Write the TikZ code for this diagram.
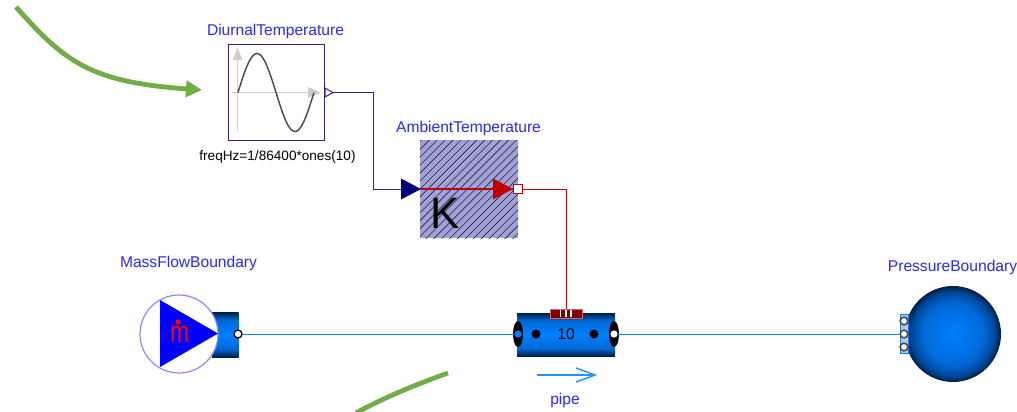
\documentclass[tikz,border=0pt]{standalone}
\usepackage{graphicx}
\usepackage{fontspec}
\setmainfont{Liberation Sans}
\usetikzlibrary{arrows.meta,positioning,calc,patterns.meta}
\definecolor{namecol}{RGB}{40,40,255}
\definecolor{signalcol}{RGB}{0,0,127}
\definecolor{wirecol}{RGB}{40,40,140}
\definecolor{framecol}{RGB}{40,40,140}
\definecolor{heatcol}{RGB}{191,0,0}
\definecolor{fluidcol}{RGB}{0,127,255}
\definecolor{pipemid}{RGB}{0,105,215}
\definecolor{pipeedge}{RGB}{0,70,150}
\definecolor{pipedark}{RGB}{0,30,65}
\definecolor{axiscol}{RGB}{205,205,205}
\definecolor{hatchbg}{RGB}{160,160,218}
\definecolor{greencol}{RGB}{112,173,71}
\definecolor{flangecol}{RGB}{130,0,0}
\pgfdeclareverticalshading{tubeshade}{100bp}{color(0bp)=(pipedark); color(25bp)=(pipedark); color(34bp)=(pipemid); color(50bp)=(fluidcol); color(66bp)=(pipemid); color(75bp)=(pipedark); color(100bp)=(pipedark)}
\pgfdeclareradialshading{ballshade}{\pgfpoint{0bp}{0bp}}{color(0bp)=(fluidcol); color(16bp)=(pipemid); color(22bp)=(pipeedge); color(25bp)=(pipedark); color(50bp)=(pipedark)}
\tikzset{
  namelabel/.style={text=namecol,font=\fontsize{11.7}{13}\selectfont,inner sep=0pt},
  paramlabel/.style={text=black,font=\fontsize{10.2}{12}\selectfont,inner sep=0pt},
  signalline/.style={wirecol,line width=0.75pt},
  heatline/.style={heatcol,line width=0.75pt},
  fluidline/.style={fluidcol,line width=0.75pt},
  greenarrow/.style={greencol,line width=3.6pt},
  portdot/.style={circle,draw=black,fill=white,line width=1pt,minimum size=6pt,inner sep=0pt}
}
\begin{document}
\begin{tikzpicture}[x=0.75pt,y=-0.75pt,>=Latex]
\useasboundingbox (0,0) rectangle (1017,411);
\clip (0,0) rectangle (1017,411);
% ---------------- green pointers ----------------
\coordinate (topstart) at (16,7);
\coordinate (toptip) at (202,90);
\draw[greenarrow,-{Triangle[length=12pt,width=12pt]}] (topstart) .. controls (65,62) and (90,82) .. (toptip);
\coordinate (lowstart) at (356,413);
\coordinate (lowend) at (448,373);
\draw[greenarrow] (lowstart) .. controls (385,397) and (415,385) .. (lowend);
% ---------------- sine source ----------------
\node[namelabel] (diurnallabel) at (275.5,31) {DiurnalTemperature};
\node[draw=framecol,fill=white,line width=0.85pt,minimum width=72.5pt,minimum height=72.5pt,inner sep=0pt] (diurnal) at (276.5,92.5) {};
\draw[axiscol,line width=1pt] (237.5,131) -- (237.5,60);
\fill[axiscol] (237.5,48) -- (232.5,60) -- (242.5,60) -- cycle;
\draw[axiscol,line width=1pt] (232,92.5) -- (308,92.5);
\fill[axiscol] (321,92.5) -- (308,87) -- (308,98) -- cycle;
% sine trace
\draw[black!70,line width=1.1pt,domain=0:1,samples=50,smooth] plot ({238+76*\x},{92.5-39*sin(360*\x)});
\node[paramlabel] (diurnalparam) at (277.5,157) {freqHz=1/86400*ones(10)};
\coordinate (diurnalout) at (333,92.5);
\draw[signalline,fill=white] (325,88) -- (333,92.5) -- (325,97) -- cycle;
% ---------------- prescribed temperature ----------------
\node[namelabel] (ambientlabel) at (468.5,128) {AmbientTemperature};
\node[fill=hatchbg,minimum width=73.5pt,minimum height=73.5pt,inner sep=0pt,
      postaction={pattern={Lines[angle=45,distance=4.2pt,line width=0.45pt]},pattern color=black!85}] (ambient) at (469,189) {};
\node[font=\fontsize{33}{33}\selectfont,inner sep=0pt] (klabel) at (445,213) {K};
\coordinate (ambientin) at (421,189);
\fill[signalcol] (421,189) -- (401,178.5) -- (401,199.5) -- cycle;
\draw[heatline,line width=1pt] (ambientin) -- (513,189);
\fill[heatcol] (513,189) -- (493,178.5) -- (493,199.5) -- cycle;
\node[draw=heatcol,fill=white,line width=0.75pt,minimum size=7pt,inner sep=0pt] (heatport) at (518,189) {};
\draw[signalline] (diurnalout) -| (373.5,189.5) -- (401,189.5);
% ---------------- mass flow source ----------------
\node[namelabel] (masslabel) at (188.5,263) {MassFlowBoundary};
\shade[shading=tubeshade] (212,312) rectangle (238.5,357);
\node[circle,draw=namecol!55,fill=white,line width=0.9pt,minimum size=58.5pt,inner sep=0pt] (massflow) at (179,334) {};
\fill[blue] (160,300) -- (218,333.5) -- (160,367) -- cycle;
\node[text=red,font=\fontsize{17}{17}\selectfont,inner sep=0pt] (mdot) at (179.5,334) {\scalebox{1}[1.35]{m}};
\fill[red] (178,322) circle (2pt);
\node[portdot] (massport) at (238,334) {};
% ---------------- pipe ----------------
\shade[shading=tubeshade] (517,313) rectangle (615,356);
\fill[black] (518,334) ellipse (3.75pt and 9.75pt);
\fill[black] (614,334) ellipse (3.75pt and 9.75pt);
\fill[black] (536,334) circle (3.4pt);
\fill[black] (594,334) circle (3.4pt);
\node[font=\fontsize{11.7}{13}\selectfont,inner sep=0pt,text=black] (pipecount) at (566,334) {10};
\node[circle,fill=fluidcol,minimum size=5.5pt,inner sep=0pt] (pipein) at (518,334) {};
\node[circle,fill=white,minimum size=5.5pt,inner sep=0pt] (pipeout) at (614,334) {};
\node[fill=flangecol,draw=heatcol!60,line width=0.5pt,minimum width=24pt,minimum height=6.75pt,inner sep=0pt] (pipeheat) at (566,313.5) {};
\foreach \xval in {560.5,566,571}
  \draw[white,line width=1pt] (\xval,310) -- (\xval,317);
\draw[fluidcol!85,line width=1.1pt] (537,375) -- (595,375);
\draw[fluidcol!85,line width=1.1pt] (576,368) -- (595,375) -- (576,382);
\node[namelabel] (pipelabel) at (565,400) {pipe};
\draw[heatline] (heatport) -| (pipeheat);
% ---------------- pressure boundary ----------------
\node[namelabel] (pressurelabel) at (952.5,267) {PressureBoundary};
\shade[shading=ballshade] (953,334) circle (36pt);
\draw[fluidcol,fill=pipedark!25,line width=0.75pt] (900,314.5) rectangle (908.5,353.5);
\foreach \yval/\pname in {321/porta,334/portb,347/portc}
  \node[circle,draw=black!70,fill=white,line width=1.2pt,minimum size=5.8pt,inner sep=0pt] (\pname) at (904,\yval) {};
% ---------------- fluid connections ----------------
\draw[fluidline] (massport) -- (pipein);
\draw[fluidline] (pipeout) -- (portb);
\end{tikzpicture}
\end{document}
